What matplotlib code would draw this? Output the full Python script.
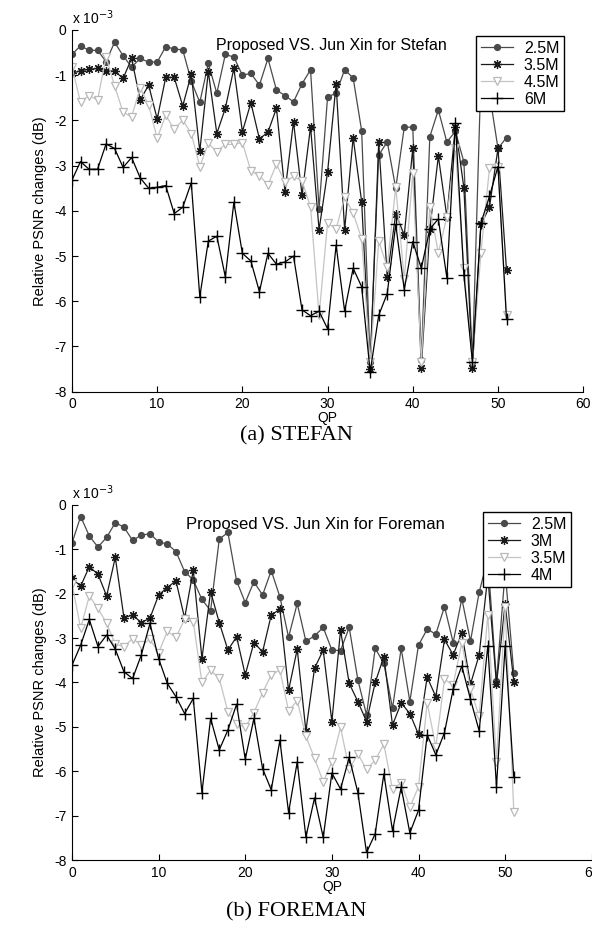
import matplotlib
matplotlib.use("Agg")
import matplotlib.pyplot as plt
import numpy as np

plt.rcParams['font.family'] = ['Liberation Sans', 'DejaVu Sans']
plt.rcParams['axes.unicode_minus'] = False

qp = list(range(52))

# Stefan (top chart), values in units of 1e-3 dB
stefan_labels = ['2.5M', '3.5M', '4.5M', '6M']
stefan_25 = [-0.54, -0.35, -0.45, -0.45, -0.70, -0.27, -0.57, -0.82, -0.63, -0.71,
             -0.71, -0.37, -0.42, -0.44, -1.13, -1.60, -0.74, -1.40, -0.54, -0.60,
             -1.00, -0.96, -1.22, -0.63, -1.33, -1.45, -1.59, -1.19, -0.88, -3.95,
             -1.48, -1.40, -0.88, -1.06, -2.23, -7.35, -2.77, -2.47, -3.50, -2.15,
             -2.15, -7.30, -2.36, -1.77, -2.48, -2.24, -2.92, -7.34, -1.00, -1.40,
             -2.62, -2.38]
stefan_35 = [-0.96, -0.90, -0.87, -0.85, -0.90, -0.91, -1.07, -0.63, -1.55, -1.22,
             -1.97, -1.05, -1.05, -1.68, -0.98, -2.68, -0.92, -2.29, -1.73, -0.85,
             -2.25, -1.61, -2.41, -2.26, -1.73, -3.58, -2.03, -3.65, -2.14, -4.42,
             -3.14, -1.20, -4.42, -2.38, -3.80, -7.49, -2.47, -5.46, -4.06, -4.54,
             -2.62, -7.47, -4.40, -2.79, -4.13, -2.14, -3.49, -7.47, -4.30, -3.92,
             -2.62, -5.31]
stefan_45 = [-0.81, -1.60, -1.45, -1.55, -0.59, -1.24, -1.82, -1.92, -1.28, -1.66,
             -2.40, -1.88, -2.20, -1.99, -2.29, -3.02, -2.51, -2.69, -2.53, -2.53,
             -2.49, -3.12, -3.22, -3.43, -2.97, -3.36, -3.24, -3.34, -3.91, -6.31,
             -4.27, -4.40, -3.69, -4.05, -4.62, -7.35, -4.67, -5.24, -3.47, -5.51,
             -3.17, -7.34, -3.91, -4.93, -4.13, -2.62, -5.27, -7.34, -4.93, -3.06,
             -3.02, -6.31]
stefan_6 = [-3.32, -2.91, -3.08, -3.08, -2.52, -2.62, -3.04, -2.82, -3.27, -3.50,
            -3.48, -3.44, -4.06, -3.92, -3.38, -5.90, -4.67, -4.56, -5.46, -3.81,
            -4.94, -5.11, -5.79, -4.94, -5.18, -5.13, -5.00, -6.19, -6.32, -6.22,
            -6.61, -4.76, -6.22, -5.27, -5.68, -7.56, -6.31, -5.83, -4.30, -5.74,
            -4.68, -5.27, -4.40, -4.18, -5.48, -2.06, -5.43, -7.34, -4.27, -3.68,
            -3.02, -6.40]

# Foreman (bottom chart)
foreman_labels = ['2.5M', '3M', '3.5M', '4M']
foreman_25 = [-0.86, -0.26, -0.70, -0.95, -0.73, -0.40, -0.50, -0.80, -0.68, -0.65,
              -0.83, -0.88, -1.05, -1.50, -1.69, -2.13, -2.38, -0.77, -0.62, -1.71,
              -2.20, -1.73, -2.03, -1.48, -2.07, -2.98, -2.22, -3.07, -2.95, -2.76,
              -3.27, -3.28, -2.76, -3.94, -4.73, -3.23, -3.57, -4.58, -3.23, -4.43,
              -3.16, -2.80, -2.91, -2.29, -3.10, -2.11, -3.07, -1.97, -1.20, -3.97,
              -1.50, -3.78]
foreman_3 = [-1.65, -1.83, -1.39, -1.56, -2.05, -1.18, -2.54, -2.48, -2.65, -2.55,
             -2.03, -1.86, -1.71, -2.55, -1.47, -3.46, -1.95, -2.65, -3.27, -2.97,
             -3.83, -3.10, -3.31, -2.48, -2.35, -4.18, -3.25, -5.09, -3.68, -3.27,
             -4.88, -2.82, -4.02, -4.43, -4.88, -4.00, -3.42, -4.96, -4.46, -4.70,
             -5.17, -3.88, -4.32, -3.03, -3.38, -2.88, -4.04, -3.38, -1.60, -4.04,
             -2.23, -3.98]
foreman_35 = [-1.77, -2.78, -2.05, -2.33, -2.67, -3.14, -3.19, -3.01, -3.16, -3.03,
              -3.33, -2.85, -2.98, -2.58, -2.63, -4.00, -3.72, -3.91, -4.66, -4.94,
              -5.01, -4.68, -4.23, -3.83, -3.72, -4.64, -4.41, -5.21, -5.71, -6.24,
              -5.79, -5.01, -5.96, -5.61, -5.96, -5.75, -5.39, -6.41, -6.26, -6.81,
              -6.35, -4.46, -5.45, -3.93, -4.06, -3.10, -4.15, -4.76, -2.47, -5.79,
              -2.30, -6.91]
foreman_4 = [-3.61, -3.16, -2.58, -3.19, -2.93, -3.25, -3.76, -3.91, -3.38, -2.67,
             -3.46, -4.02, -4.32, -4.70, -4.36, -6.48, -4.81, -5.52, -5.07, -4.49,
             -5.73, -4.81, -5.94, -6.42, -5.30, -6.93, -5.79, -7.48, -6.60, -7.49,
             -6.04, -6.40, -5.69, -6.48, -7.83, -7.41, -6.06, -7.34, -6.36, -7.39,
             -6.88, -5.18, -5.63, -5.13, -4.15, -3.63, -4.38, -5.09, -3.17, -6.35,
             -3.17, -6.14]

# line styles, matlab-ish: dots, asterisk, open triangles, plus
styles = [
    dict(color='#4a4a4a', marker='o', markersize=4.2, markerfacecolor='#4a4a4a',
         markeredgecolor='#4a4a4a', linewidth=0.9),
    dict(color='#1a1a1a', marker=(8, 2, 0), markersize=6.5, markeredgewidth=0.9,
         linewidth=0.9),
    dict(color='#c4c4c4', marker='v', markersize=6, markerfacecolor='white',
         markeredgecolor='#b8b8b8', markeredgewidth=0.9, linewidth=0.9),
    dict(color='black', marker='+', markersize=9, markeredgewidth=1.0, linewidth=0.9),
]


def draw(ax, series, labels, title, title_xy, title_size, leg_anchor):
    for ys, lab, st in zip(series, labels, styles):
        ax.plot(qp, ys, label=lab, **st)
    ax.set_xlim(0, 60)
    ax.set_ylim(-8, 0)
    ax.set_xticks(np.arange(0, 61, 10))
    ax.set_yticks(np.arange(-8, 1, 1))
    ax.tick_params(direction='in', length=4, labelsize=10, pad=4)
    for s in ['top', 'right']:
        ax.spines[s].set_visible(False)
    ax.set_xlabel('QP', fontsize=10, labelpad=0)
    ax.set_ylabel('Relative PSNR changes (dB)', fontsize=10.5, labelpad=5)
    ax.text(title_xy[0], title_xy[1], title, transform=ax.transAxes,
            ha='center', va='center', fontsize=title_size)
    ax.text(0.0, 1.035, r'x 10$^{-3}$', transform=ax.transAxes,
            ha='left', va='center', fontsize=10)
    leg = ax.legend(loc='upper left', bbox_to_anchor=leg_anchor,
                    bbox_transform=fig.transFigure, fancybox=False,
                    edgecolor='black', framealpha=1, fontsize=11.5,
                    handlelength=2.0, labelspacing=0.12, borderpad=0.3,
                    handletextpad=0.7, borderaxespad=0)
    leg.get_frame().set_linewidth(1.0)


fig = plt.figure(figsize=(5.92, 9.40), dpi=100)
ax1 = fig.add_axes([0.1216, 0.5833, 0.8635, 0.3848])
ax2 = fig.add_axes([0.1216, 0.0851, 0.878, 0.3777])

draw(ax1, [stefan_25, stefan_35, stefan_45, stefan_6], stefan_labels,
     'Proposed VS. Jun Xin for Stefan', (0.507, 0.956), 11.5,
     (476 / 592, 1 - 36 / 940))
draw(ax2, [foreman_25, foreman_3, foreman_35, foreman_4], foreman_labels,
     'Proposed VS. Jun Xin for Foreman', (0.468, 0.944), 12,
     (483 / 592, 1 - 512 / 940))

fig.text(0.5, 1 - 436 / 940, '(a) STEFAN', ha='center', va='center',
         fontsize=16, family='Liberation Serif')
fig.text(0.5, 1 - 912 / 940, '(b) FOREMAN', ha='center', va='center',
         fontsize=16, family='Liberation Serif')

fig.savefig('out.png', dpi=100)
